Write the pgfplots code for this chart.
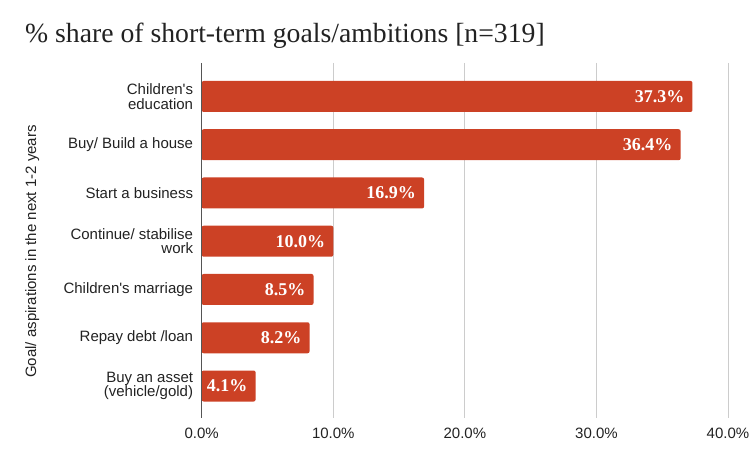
\documentclass[border=0pt]{standalone}
\usepackage{pgfplots}
\pgfplotsset{compat=1.18}
\usepackage{fontspec}
\setmainfont{Liberation Serif}
\newfontfamily\sansf{Liberation Sans}
\definecolor{barred}{HTML}{CC4125}
\definecolor{gridgray}{HTML}{CCCCCC}
\definecolor{axgray}{HTML}{555555}
\definecolor{txt}{HTML}{222222}
\begin{document}
\begin{tikzpicture}[x=1bp,y=1bp]
\path[use as bounding box] (0,0) rectangle (750,463);
\node[anchor=base west, inner sep=0pt, font=\fontsize{27.7bp}{30bp}\selectfont, text=txt] at (25,420) {\% share of short-term goals/ambitions [n=319]};
\begin{axis}[
  at={(201.7bp,45bp)}, anchor=south west,
  scale only axis, width=526.3bp, height=355bp,
  xmin=0, xmax=40, ymin=-0.694, ymax=6.663,
  y dir=reverse,
  xbar, bar width=31bp,
  axis line style={draw=none},
  xtick={0,10,20,30,40},
  xmajorgrids, grid style={draw=gridgray, line width=1bp},
  major tick length=0pt,
  xticklabel={\pgfmathprintnumber[assume math mode=true,fixed,fixed zerofill,precision=1]{\tick}\%},
  xticklabel style={font=\sansf\fontsize{15bp}{15bp}\selectfont, text=txt, inner sep=0pt, anchor=north, yshift=-10bp},
  ytick={0,1,2,3,4,5,6},
  yticklabels={{Children's\\education},{Buy/ Build a house},{Start a business},{Continue/ stabilise\\work},{Children's marriage},{Repay debt /loan},{Buy an asset\\(vehicle/gold)}},
  yticklabel style={font=\sansf\fontsize{15bp}{14.4bp}\selectfont, text=txt, align=right, inner sep=0pt, anchor=east, xshift=-8.4bp},
  ylabel={Goal/ aspirations in the next 1-2 years},
  ylabel style={at={(axis description cs:-0.3148,0.469)}, anchor=base, rotate=0, font=\sansf\fontsize{15bp}{15bp}\selectfont, text=txt, inner sep=0pt},
  point meta=x,
  nodes near coords={\pgfmathprintnumber[assume math mode=true,fixed,fixed zerofill,precision=1]{\pgfplotspointmeta}\%},
  nodes near coords align={anchor=east},
  every node near coord/.append style={anchor=east, xshift=-8bp, text=white, inner sep=0pt, font=\bfseries\fontsize{18bp}{18bp}\selectfont},
  clip=false,
]
\addplot[fill=barred, draw=none, rounded corners=2bp] coordinates {
  (37.3,0) (36.4,1) (16.9,2) (10.0,3) (8.5,4) (8.2,5) (4.1,6)
};
\draw[axgray, line width=1bp] (rel axis cs:0,0) -- (rel axis cs:0,1);
\end{axis}
\end{tikzpicture}
\end{document}
